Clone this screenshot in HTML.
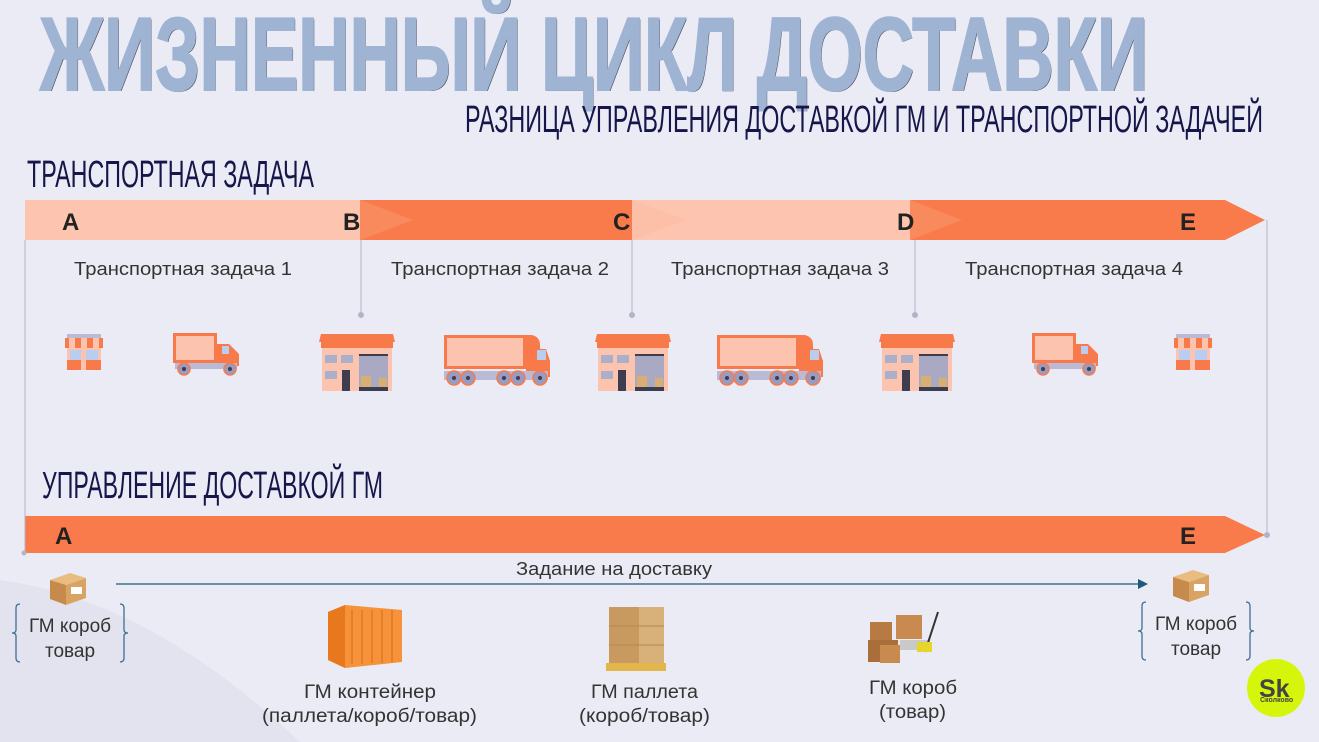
<!DOCTYPE html>
<html><head><meta charset="utf-8"><style>
html,body{margin:0;padding:0;width:1319px;height:742px;overflow:hidden;background:#ebebf5}
svg{display:block}
text{font-family:"Liberation Sans",sans-serif}
</style></head><body>
<svg width="1319" height="742" viewBox="0 0 1319 742" xmlns="http://www.w3.org/2000/svg">
<defs>
<symbol id="wh" viewBox="0 0 76 57">
<path d="M2 0H74L76 8H0Z" fill="#f87a4a"/><rect x="2" y="8" width="72" height="6" fill="#f87a4a"/>
<rect x="3" y="14" width="70" height="43" fill="#fcc4ae"/>
<rect x="6" y="21" width="12" height="8" fill="#aab0cc"/><rect x="22" y="21" width="12" height="8" fill="#aab0cc"/>
<rect x="6" y="37" width="12" height="8" fill="#aab0cc"/><rect x="23" y="36" width="8" height="21" fill="#3e3d4f"/>
<rect x="40" y="20" width="29" height="37" fill="#a9a9c4"/><rect x="40" y="20" width="29" height="2" fill="#3e3d4f"/>
<rect x="42" y="42" width="10" height="12" fill="#d9ae72"/><rect x="60" y="44" width="8" height="10" fill="#d9ae72"/>
<rect x="40" y="53" width="29" height="4" fill="#3e3d4f"/>
</symbol>
<symbol id="bt" viewBox="0 0 112 53">
<rect x="2" y="1" width="82" height="34" fill="#f87a4a"/><rect x="5" y="4" width="76" height="28" fill="#fcc4ae"/>
<path d="M84 1h6q8 2 8 10v4h6l4 12v16H84Z" fill="#f87a4a"/><rect x="95" y="16" width="9" height="10" fill="#b9cdf0"/>
<rect x="2" y="37" width="104" height="9" fill="#b9bad6"/>
<g fill="#9a9bc0" stroke="#f87a4a" stroke-width="1.5"><circle cx="12" cy="44" r="7"/><circle cx="26" cy="44" r="7"/><circle cx="62" cy="44" r="7"/><circle cx="76" cy="44" r="7"/><circle cx="98" cy="44" r="7"/></g>
<g fill="#3e3d4f"><circle cx="12" cy="44" r="2"/><circle cx="26" cy="44" r="2"/><circle cx="62" cy="44" r="2"/><circle cx="76" cy="44" r="2"/><circle cx="98" cy="44" r="2"/></g>
</symbol>
<symbol id="st" viewBox="0 0 70 45">
<rect x="1" y="1" width="44" height="30" fill="#f87a4a"/><rect x="4" y="4" width="38" height="24" fill="#fcc4ae"/>
<path d="M45 12h12l10 10v12H45Z" fill="#f87a4a"/><rect x="50" y="14" width="7" height="8" fill="#b9cdf0"/>
<rect x="3" y="31" width="62" height="6" fill="#b9bad6"/>
<g fill="#9a9bc0" stroke="#f87a4a" stroke-width="1.5"><circle cx="12" cy="37" r="6"/><circle cx="58" cy="37" r="6"/></g>
<g fill="#3e3d4f"><circle cx="12" cy="37" r="2"/><circle cx="58" cy="37" r="2"/></g>
</symbol>
<symbol id="sh" viewBox="0 0 38 36">
<rect x="2" y="0" width="34" height="4" fill="#b9bad6"/>
<path d="M0 4H38V14H0Z" fill="#f87a4a"/><path d="M4 4h6v10h-6zM16 4h6v10h-6zM28 4h6v10h-6z" fill="#fcc4ae"/>
<rect x="2" y="14" width="34" height="22" fill="#fcc4ae"/><rect x="5" y="16" width="11" height="10" fill="#b9cdf0"/><rect x="21" y="16" width="12" height="10" fill="#b9cdf0"/>
<rect x="2" y="26" width="34" height="10" fill="#f87a4a"/><rect x="16" y="20" width="5" height="16" fill="#fcc4ae"/>
</symbol>
<symbol id="box" viewBox="0 0 40 34">
<path d="M2 8L22 1L38 6L18 13Z" fill="#e8bd7f"/><path d="M2 8L18 13V33L2 27Z" fill="#c58a4c"/><path d="M18 13L38 6V26L18 33Z" fill="#d9a463"/><rect x="23" y="15" width="11" height="7" fill="#fff"/>
</symbol>
</defs>
<path d="M0 580 Q150 600 300 742 L0 742Z" fill="#e3e3ef"/>
<text x="40" y="90" font-size="104" font-weight="bold" fill="#3a3a4a" textLength="1108" lengthAdjust="spacingAndGlyphs" transform="translate(1,1)">ЖИЗНЕННЫЙ ЦИКЛ ДОСТАВКИ</text>
<text x="40" y="90" font-size="104" font-weight="bold" fill="#9fb3d3" stroke="#9fb3d3" stroke-width="2" textLength="1108" lengthAdjust="spacingAndGlyphs">ЖИЗНЕННЫЙ ЦИКЛ ДОСТАВКИ</text>
<text x="465" y="132" font-size="38" fill="#16164a" textLength="798" lengthAdjust="spacingAndGlyphs">РАЗНИЦА УПРАВЛЕНИЯ ДОСТАВКОЙ ГМ И ТРАНСПОРТНОЙ ЗАДАЧЕЙ</text>
<text x="27" y="187" font-size="38" fill="#16164a" textLength="287" lengthAdjust="spacingAndGlyphs">ТРАНСПОРТНАЯ ЗАДАЧА</text>
<text x="42" y="498" font-size="38" fill="#16164a" textLength="341" lengthAdjust="spacingAndGlyphs">УПРАВЛЕНИЕ ДОСТАВКОЙ ГМ</text>
<rect x="25" y="200" width="340" height="40" fill="#fdc5b0"/>
<rect x="360" y="200" width="276" height="40" fill="#f97b4b"/>
<rect x="632" y="200" width="282" height="40" fill="#fdc5b0"/>
<path d="M910 200H1225L1265 220L1225 240H910Z" fill="#f97b4b"/>
<path d="M360 200L413 220L360 240Z" fill="#f98a5e"/>
<path d="M632 200L687 220L632 240Z" fill="#fcbfa8"/>
<path d="M910 200L962 220L910 240Z" fill="#f98a5e"/>
<path d="M25 516H1225L1265 535L1225 553H25Z" fill="#f97b4b"/>
<g stroke="#b3b3c6" stroke-width="1" fill="#b3b3c6">
<line x1="25" y1="240" x2="25" y2="553"/><circle cx="24" cy="553" r="2"/>
<line x1="361" y1="240" x2="361" y2="315"/><circle cx="361" cy="315" r="2.5"/>
<line x1="632" y1="240" x2="632" y2="315"/><circle cx="632" cy="315" r="2.5"/>
<line x1="915" y1="240" x2="915" y2="315"/><circle cx="915" cy="315" r="2.5"/>
<line x1="1267" y1="220" x2="1267" y2="535"/><circle cx="1267" cy="535" r="2.5"/>
</g>
<g font-size="24" font-weight="bold" fill="#222">
<text x="62" y="230">A</text><text x="343" y="230">B</text><text x="613" y="230">C</text><text x="897" y="230">D</text><text x="1180" y="230">E</text>
<text x="55" y="544">A</text><text x="1180" y="544">E</text>
</g>
<g font-size="18" fill="#333">
<text x="74" y="275" textLength="218" lengthAdjust="spacingAndGlyphs">Транспортная задача 1</text>
<text x="391" y="275" textLength="218" lengthAdjust="spacingAndGlyphs">Транспортная задача 2</text>
<text x="671" y="275" textLength="218" lengthAdjust="spacingAndGlyphs">Транспортная задача 3</text>
<text x="965" y="275" textLength="218" lengthAdjust="spacingAndGlyphs">Транспортная задача 4</text>
</g>
<use href="#sh" x="65" y="334" width="38" height="36"/>
<use href="#st" x="172" y="332" width="70" height="45"/>
<use href="#wh" x="319" y="334" width="76" height="57"/>
<use href="#bt" x="442" y="334" width="112" height="53"/>
<use href="#wh" x="595" y="334" width="76" height="57"/>
<use href="#bt" x="715" y="334" width="112" height="53"/>
<use href="#wh" x="879" y="334" width="76" height="57"/>
<use href="#st" x="1031" y="332" width="70" height="45"/>
<use href="#sh" x="1174" y="334" width="38" height="36"/>
<text x="516" y="575" font-size="18" fill="#333" textLength="196" lengthAdjust="spacingAndGlyphs">Задание на доставку</text>
<line x1="116" y1="584" x2="1140" y2="584" stroke="#1d5a7a" stroke-width="1.3"/>
<path d="M1148 584L1138 579V589Z" fill="#1d5a7a"/>
<use href="#box" x="48" y="572" width="40" height="34"/>
<use href="#box" x="1171" y="569" width="40" height="34"/>
<g fill="none" stroke="#3d6f94" stroke-width="1.3">
<path d="M20 604q-4 0-4 4v22q0 3-4 3q4 0 4 3v22q0 4 4 4"/><path d="M120 604q4 0 4 4v22q0 3 4 3q-4 0-4 3v22q0 4-4 4"/>
<path d="M1146 602q-4 0-4 4v22q0 3-4 3q4 0 4 3v22q0 4 4 4"/><path d="M1246 602q4 0 4 4v22q0 3 4 3q-4 0-4 3v22q0 4-4 4"/>
</g>
<g font-size="19" fill="#333" text-anchor="middle">
<text x="70" y="632">ГМ короб</text><text x="70" y="657">товар</text>
<text x="1196" y="630">ГМ короб</text><text x="1196" y="655">товар</text>
</g>
<g font-size="19" fill="#333">
<text x="304" y="698" textLength="132" lengthAdjust="spacingAndGlyphs">ГМ контейнер</text>
<text x="262" y="722" textLength="215" lengthAdjust="spacingAndGlyphs">(паллета/короб/товар)</text>
<text x="591" y="698" textLength="107" lengthAdjust="spacingAndGlyphs">ГМ паллета</text>
<text x="579" y="722" textLength="131" lengthAdjust="spacingAndGlyphs">(короб/товар)</text>
<text x="869" y="694" textLength="88" lengthAdjust="spacingAndGlyphs">ГМ короб</text>
<text x="879" y="718" textLength="67" lengthAdjust="spacingAndGlyphs">(товар)</text>
</g>
<path d="M328 612L345 605L402 610V662L345 668L328 660Z" fill="#f5923a"/>
<path d="M328 612L345 605V668L328 660Z" fill="#e8781e"/>
<g stroke="#d96c1a" stroke-width="1"><line x1="352" y1="610" x2="352" y2="664"/><line x1="362" y1="610" x2="362" y2="664"/><line x1="372" y1="610" x2="372" y2="663"/><line x1="382" y1="610" x2="382" y2="663"/><line x1="392" y1="610" x2="392" y2="662"/></g>
<rect x="609" y="607" width="55" height="58" fill="#d8b07a"/>
<rect x="609" y="607" width="30" height="58" fill="#c99a60"/>
<g stroke="#b58650" stroke-width="1"><line x1="609" y1="626" x2="664" y2="626"/><line x1="609" y1="645" x2="664" y2="645"/></g>
<rect x="606" y="663" width="60" height="8" fill="#e2b64d"/>
<rect x="870" y="622" width="22" height="20" fill="#b67a42"/>
<rect x="896" y="615" width="26" height="24" fill="#c88a4e"/>
<rect x="868" y="640" width="30" height="22" fill="#a96e3a"/>
<rect x="880" y="645" width="20" height="18" fill="#c88a4e"/>
<rect x="900" y="640" width="30" height="10" fill="#c9c9c9"/>
<path d="M925 652L938 612" stroke="#333" stroke-width="2"/>
<path d="M917 642h15v10h-15z" fill="#e6d52a"/>
<circle cx="1276" cy="688" r="29" fill="#d5f60b"/>
<text x="1259" y="697" font-size="25" font-weight="bold" fill="#444">Sk</text>
<text x="1260" y="702" font-size="7" fill="#444" font-weight="bold">Сколково</text>
</svg>
</body></html>
